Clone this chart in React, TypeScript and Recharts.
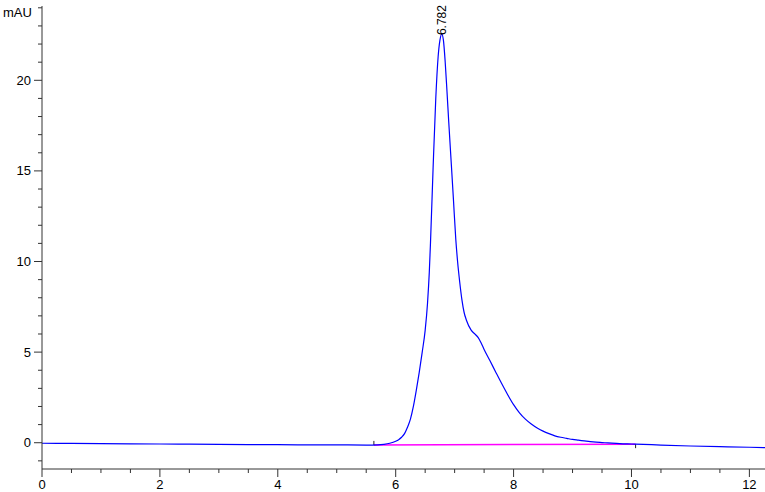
import {
  LineChart,
  Line,
  XAxis,
  YAxis,
  ReferenceLine,
  ReferenceDot,
} from 'recharts';

// ---------------------------------------------------------------------------
// Chromatogram trace (retention time in min, signal in mAU)
// ---------------------------------------------------------------------------
const TIME = [
  0, 0.5, 1.0, 1.5, 2.0, 2.5, 3.0, 3.5, 4.0, 4.5, 5.0, 5.5, 5.7, 5.8, 5.9,
  6.0, 6.05, 6.1, 6.15, 6.2, 6.25, 6.3, 6.35, 6.4, 6.45, 6.5, 6.54, 6.57,
  6.59, 6.635, 6.68, 6.72, 6.75, 6.782, 6.81, 6.84, 6.87, 6.9, 6.945, 6.98,
  7.02, 7.05, 7.085, 7.125, 7.16, 7.2, 7.28, 7.35, 7.4, 7.45, 7.5, 7.6, 7.7,
  7.8, 7.9, 8.0, 8.1, 8.2, 8.3, 8.4, 8.5, 8.6, 8.7, 8.8, 8.9, 9.0, 9.1, 9.2,
  9.3, 9.4, 9.5, 9.6, 9.8, 10.0, 10.2, 10.5, 11.0, 11.5, 12.0, 12.27,
];
const SIGNAL = [
  -0.03, -0.04, -0.05, -0.06, -0.07, -0.08, -0.09, -0.1, -0.11, -0.12, -0.12,
  -0.13, -0.12, -0.09, -0.03, 0.08, 0.17, 0.3, 0.5, 0.85, 1.3, 2.0, 2.9, 3.9,
  5.0, 6.2, 7.7, 9.4, 11.0, 15.2, 19.0, 21.3, 22.2, 22.55, 22.2, 21.0, 19.4,
  17.7, 15.3, 13.4, 11.2, 10.0, 8.9, 7.86, 7.2, 6.76, 6.21, 5.98, 5.8, 5.5,
  5.15, 4.52, 3.88, 3.25, 2.65, 2.1, 1.65, 1.3, 1.03, 0.81, 0.64, 0.5, 0.38,
  0.3, 0.24, 0.18, 0.14, 0.1, 0.06, 0.03, 0.01, -0.01, -0.05, -0.07, -0.09,
  -0.13, -0.18, -0.22, -0.25, -0.27,
];

const PEAK_TIME = 6.782;
const PEAK_HEIGHT = 22.55;
const PEAK_LABEL = '6.782';

// integration baseline (start / end of the peak)
const BASE_START = { x: 5.63, y: -0.13 };
const BASE_END = { x: 10.07, y: -0.08 };

const X_TICKS = Array.from({ length: 25 }, (_, i) => i * 0.5);
const Y_TICKS = Array.from({ length: 26 }, (_, i) => i - 1);

// ---------------------------------------------------------------------------
// Layout
// ---------------------------------------------------------------------------
const WIDTH = 765;
const HEIGHT = 492;
const AXIS_X = 42;
const AXIS_Y = 469;
const FONT = '"Liberation Sans", Arial, sans-serif';
const AXIS_COLOR = '#333';

const data = TIME.map((t, i) => ({ t, v: SIGNAL[i] }));

function YTick({ y, payload }: any) {
  const v = payload.value;
  const major = v % 5 === 0;
  return (
    <g>
      <line
        x1={AXIS_X - (major ? 8 : 4)}
        x2={AXIS_X}
        y1={y}
        y2={y}
        stroke={AXIS_COLOR}
      />
      {major && (
        <text
          x={AXIS_X - 11}
          y={y}
          textAnchor="end"
          dominantBaseline="central"
          fontSize={13}
          fontFamily={FONT}
          fill="#000"
        >
          {v}
        </text>
      )}
    </g>
  );
}

function XTick({ x, payload }: any) {
  const v = payload.value;
  const major = v % 2 === 0;
  return (
    <g>
      <line
        x1={x}
        x2={x}
        y1={AXIS_Y}
        y2={AXIS_Y + (major ? 8 : 4)}
        stroke={AXIS_COLOR}
      />
      {major && (
        <text
          x={x}
          y={AXIS_Y + 15}
          textAnchor="middle"
          dominantBaseline="central"
          fontSize={13}
          fontFamily={FONT}
          fill="#000"
        >
          {v}
        </text>
      )}
    </g>
  );
}

function PeakLabel({ cx, cy }: any) {
  const bx = cx + 4;
  const by = cy + 1;
  return (
    <text
      x={bx}
      y={by}
      transform={`rotate(-90 ${bx} ${by})`}
      fontSize={12}
      fontFamily={FONT}
      fill="#000"
    >
      {PEAK_LABEL}
    </text>
  );
}

export default function App() {
  return (
    <div style={{ position: 'absolute', left: 0, top: 0, width: WIDTH, height: HEIGHT }}>
      <LineChart
        width={WIDTH}
        height={HEIGHT}
        data={data}
        margin={{ top: 6, right: 0, bottom: 0, left: 0 }}
      >
        <XAxis
          type="number"
          dataKey="t"
          domain={[0, 12.265]}
          ticks={X_TICKS}
          interval={0}
          allowDataOverflow
          height={HEIGHT - AXIS_Y}
          tickLine={false}
          stroke={AXIS_COLOR}
          tick={<XTick />}
        />
        <YAxis
          type="number"
          domain={[-1.45, 24.1]}
          ticks={Y_TICKS}
          interval={0}
          allowDataOverflow
          width={AXIS_X}
          tickLine={false}
          stroke={AXIS_COLOR}
          tick={<YTick />}
        />
        <ReferenceLine
          segment={[BASE_START, BASE_END]}
          stroke="#ff00ff"
          strokeWidth={1.5}
        />
        <ReferenceLine
          segment={[
            { x: BASE_START.x, y: BASE_START.y },
            { x: BASE_START.x, y: 0.1 },
          ]}
          stroke="#222"
        />
        <ReferenceLine
          segment={[
            { x: BASE_END.x, y: BASE_END.y },
            { x: BASE_END.x, y: -0.3 },
          ]}
          stroke="#222"
        />
        <Line
          type="monotone"
          dataKey="v"
          stroke="#0000ff"
          strokeWidth={1.2}
          dot={false}
          isAnimationActive={false}
        />
        <ReferenceDot
          x={PEAK_TIME}
          y={PEAK_HEIGHT}
          r={0}
          shape={<PeakLabel />}
        />
      </LineChart>
      <div
        style={{
          position: 'absolute',
          left: 3,
          top: 5,
          fontFamily: FONT,
          fontSize: 13,
          color: '#000',
          lineHeight: '16px',
        }}
      >
        mAU
      </div>
    </div>
  );
}
